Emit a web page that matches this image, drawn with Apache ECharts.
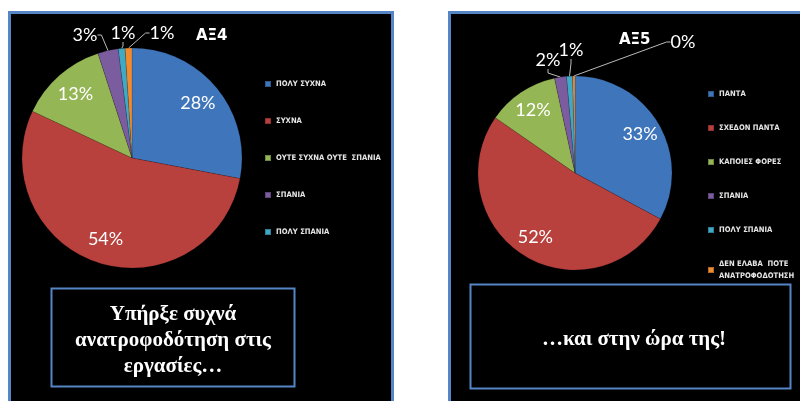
<!DOCTYPE html>
<html>
<head>
    <meta charset="utf-8">
    <title>ΑΞ4 / ΑΞ5</title>
    <script src="https://cdn.jsdelivr.net/npm/echarts@6/dist/echarts.min.js"></script>
    <style>
        html, body { margin: 0; padding: 0; background: #fff; }
        #chart1 { width: 800px; height: 401px; }
    </style>
</head>
<body>
<div id="chart1"></div>
<script>
    // ΑΞ4 - συχνότητα ανατροφοδότησης
    var namesA = ['ΠΟΛΥ ΣΥΧΝΑ', 'ΣΥΧΝΑ', 'ΟΥΤΕ ΣΥΧΝΑ ΟΥΤΕ  ΣΠΑΝΙΑ', 'ΣΠΑΝΙΑ', 'ΠΟΛΥ ΣΠΑΝΙΑ', 'ΔΕΝ ΕΛΑΒΑ  ΠΟΤΕ ΑΝΑΤΡΟΦΟΔΟΤΗΣΗ'];
    var valuesA = [28, 54, 13, 3, 1, 1];
    // ΑΞ5 - έγκαιρη ανατροφοδότηση
    var namesB = ['ΠΑΝΤΑ', 'ΣΧΕΔΟΝ ΠΑΝΤΑ', 'ΚΑΠΟΙΕΣ ΦΟΡΕΣ', 'ΣΠΑΝΙΑ', 'ΠΟΛΥ ΣΠΑΝΙΑ', 'ΔΕΝ ΕΛΑΒΑ  ΠΟΤΕ ΑΝΑΤΡΟΦΟΔΟΤΗΣΗ'];
    var valuesB = [33, 52, 12, 2, 1, 0.4];

    var colors = ['#3f75ba', '#b8403d', '#95b655', '#7b5c9e', '#40a9c5', '#ef8b30'];

    // where the small outside labels sit, relative to the pie centre
    var smallLabelOffsA = { 3: [-47, -123], 4: [-9, -125], 5: [30, -125] };
    var smallLabelOffsB = { 3: [-27, -113], 4: [-4, -123], 5: [108, -131] };

    function makeData(names, values) {
        return names.map(function (n, i) {
            return { name: n, value: values[i] };
        });
    }

    function pctLabel(p) {
        return Math.round(p.value) + '%';
    }

    // main pie: small slices get outside labels
    function mainPie(names, values, center, r, offs) {
        return {
            type: 'pie',
            center: center,
            radius: r,
            startAngle: 90,
            avoidLabelOverlap: false,
            data: makeData(names, values).map(function (d) {
                var small = d.value < 5;
                d.label = { show: small };
                d.labelLine = { show: small };
                return d;
            }),
            label: {
                position: 'outside',
                color: '#fff',
                fontSize: 18,
                fontFamily: 'Lato',
                formatter: pctLabel
            },
            labelLine: {
                length: 8,
                length2: 4,
                lineStyle: { color: '#bbb', width: 1 }
            },
            labelLayout: function (p) {
                var o = offs[p.dataIndex];
                if (!o) return {};
                return {
                    x: center[0] + o[0],
                    y: center[1] + o[1],
                    align: 'center',
                    verticalAlign: 'middle',
                    hideOverlap: false,
                    moveOverlap: false
                };
            },
            itemStyle: { borderColor: 'rgba(0,0,0,0.25)', borderWidth: 0.5 },
            emphasis: { scale: false }
        };
    }

    // transparent ring only to put the big labels at 3/4 radius
    function labelPie(names, values, center, r) {
        return {
            type: 'pie',
            center: center,
            radius: [r / 2, r],
            startAngle: 90,
            silent: true,
            legendHoverLink: false,
            data: makeData(names, values).map(function (d) {
                d.label = { show: d.value >= 5 };
                return d;
            }),
            itemStyle: { color: 'rgba(0,0,0,0)' },
            label: {
                position: 'inside',
                color: '#fff',
                fontSize: 18,
                fontFamily: 'Lato',
                formatter: pctLabel
            },
            labelLine: { show: false }
        };
    }

    var legendText = {
        color: '#e6e6e6',
        fontSize: 7.6,
        fontWeight: 'bold',
        fontFamily: 'DejaVu Sans Condensed',
        lineHeight: 12
    };

    var myChart1 = echarts.init(document.getElementById('chart1'));
    myChart1.setOption({
        backgroundColor: '#fff',
        color: colors,
        animation: false,
        title: [
            { text: 'ΑΞ4', left: 191, top: 24, textStyle: { color: '#fff', fontSize: 15, fontWeight: 'bold', fontFamily: 'DejaVu Sans' } },
            { text: 'ΑΞ5', left: 614, top: 28, textStyle: { color: '#fff', fontSize: 15, fontWeight: 'bold', fontFamily: 'DejaVu Sans' } }
        ],
        legend: [
            {
                orient: 'vertical',
                left: 259,
                top: 73,
                itemGap: 25,
                itemWidth: 6,
                itemHeight: 6,
                icon: 'rect',
                data: namesA.slice(0, 5),
                textStyle: legendText
            },
            {
                orient: 'vertical',
                left: 702,
                top: 83,
                itemGap: 22,
                itemWidth: 6,
                itemHeight: 6,
                icon: 'rect',
                data: namesB,
                formatter: function (n) {
                    return n.replace('ΠΟΤΕ ', 'ΠΟΤΕ\n');
                },
                textStyle: legendText
            }
        ],
        graphic: [
            { type: 'rect', z: -10, shape: { x: 9.5, y: 12.5, width: 383, height: 400 }, style: { fill: '#000', stroke: '#5585c4', lineWidth: 3 } },
            { type: 'rect', z: -10, shape: { x: 449.5, y: 12.5, width: 360, height: 400 }, style: { fill: '#000', stroke: '#5585c4', lineWidth: 3 } },
            { type: 'rect', shape: { x: 51.5, y: 288.5, width: 243, height: 98 }, style: { fill: 'none', stroke: '#5585c4', lineWidth: 2 } },
            { type: 'rect', shape: { x: 470.5, y: 284.5, width: 320, height: 104 }, style: { fill: 'none', stroke: '#5585c4', lineWidth: 2 } },
            {
                type: 'text', x: 173, y: 341,
                style: {
                    text: 'Υπήρξε συχνά\nανατροφοδότηση στις\nεργασίες…',
                    align: 'center', verticalAlign: 'middle',
                    font: 'bold 21px "Liberation Serif"', lineHeight: 26, fill: '#fff'
                }
            },
            {
                type: 'text', x: 634, y: 340,
                style: {
                    text: '…και στην ώρα της!',
                    align: 'center', verticalAlign: 'middle',
                    font: 'bold 21px "Liberation Serif"', fill: '#fff'
                }
            }
        ],
        series: [
            mainPie(namesA, valuesA, [132, 158], 110, smallLabelOffsA),
            labelPie(namesA, valuesA, [132, 158], 110),
            mainPie(namesB, valuesB, [575, 173], 97, smallLabelOffsB),
            labelPie(namesB, valuesB, [575, 173], 97)
        ]
    });
</script>
</body>
</html>
